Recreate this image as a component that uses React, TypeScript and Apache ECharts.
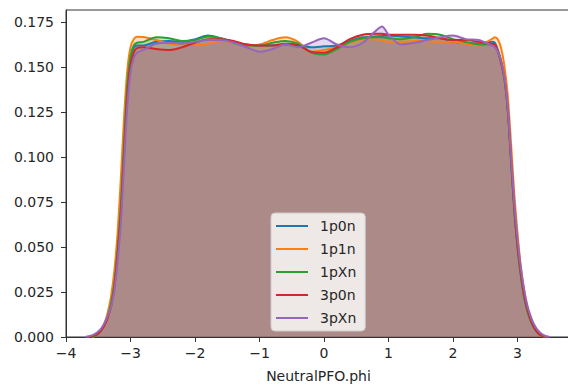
import React, { useEffect, useRef } from "react";
import * as echarts from "echarts";

const phi = [
  -3.7, -3.65, -3.6, -3.55, -3.5, -3.45, -3.4, -3.35, -3.3, -3.25, -3.2, -3.15, -3.1, -3.05, -3.0, -2.95, -2.9,
  -2.8, -2.6, -2.4, -2.2, -2.0, -1.8, -1.6, -1.4, -1.2, -1.0, -0.8, -0.6, -0.4, -0.2, 0, 0.2, 0.4, 0.6, 0.8, 0.9,
  1.0, 1.2, 1.4, 1.6, 1.8, 2.0, 2.2, 2.4, 2.6,
  2.65, 2.7, 2.75, 2.8, 2.85, 2.9, 2.95, 3.0, 3.05, 3.1, 3.15, 3.2, 3.25, 3.3, 3.35, 3.4, 3.45, 3.5,
];

const seriesNames = ["1p0n", "1p1n", "1pXn", "3p0n", "3pXn"];
const seriesColors = ["#1f77b4", "#ff7f0e", "#2ca02c", "#d62728", "#9467bd"];

const d1p0n = [
  null, null, 0, 0.0007, 0.0018, 0.004, 0.007, 0.012, 0.019, 0.03, 0.049, 0.073, 0.108, 0.14, 0.155, 0.1605, 0.162,
  0.162, 0.164, 0.1645, 0.164, 0.1655, 0.1675, 0.166, 0.164, 0.1625, 0.162, 0.162, 0.163, 0.1625, 0.161, 0.1615, 0.162, 0.1645, 0.1665, 0.167, 0.1672,
  0.1675, 0.167, 0.1665, 0.166, 0.166, 0.164, 0.1635, 0.163, 0.164,
  0.1635, 0.159, 0.153, 0.144, 0.127, 0.099, 0.072, 0.051, 0.035, 0.023, 0.015, 0.0095, 0.0055, 0.0028, 0.0012, 0.0004, 0, null,
];
const d1p1n = [
  null, null, 0, 0.0008, 0.002, 0.0045, 0.008, 0.014, 0.023, 0.037, 0.058, 0.088, 0.122, 0.148, 0.161, 0.1655, 0.1668,
  0.1667, 0.165, 0.163, 0.1625, 0.1625, 0.163, 0.1645, 0.1635, 0.162, 0.1625, 0.165, 0.1665, 0.164, 0.1585, 0.1595, 0.161, 0.1635, 0.1655, 0.1655, 0.165,
  0.164, 0.164, 0.1645, 0.1645, 0.164, 0.164, 0.163, 0.162, 0.1655,
  0.1665, 0.165, 0.16, 0.15, 0.134, 0.108, 0.08, 0.058, 0.04, 0.027, 0.017, 0.011, 0.006, 0.003, 0.0012, 0.0004, 0, null,
];
const d1pXn = [
  null, null, 0, 0.0007, 0.0018, 0.004, 0.007, 0.012, 0.019, 0.03, 0.049, 0.073, 0.108, 0.14, 0.156, 0.162, 0.1635,
  0.164, 0.1665, 0.166, 0.1645, 0.165, 0.167, 0.166, 0.1635, 0.162, 0.162, 0.1635, 0.1645, 0.163, 0.158, 0.157, 0.16, 0.164, 0.166, 0.1665, 0.1665,
  0.166, 0.1655, 0.1665, 0.1685, 0.168, 0.1655, 0.164, 0.1625, 0.1625,
  0.162, 0.158, 0.152, 0.143, 0.126, 0.098, 0.071, 0.05, 0.035, 0.023, 0.015, 0.0095, 0.0055, 0.0028, 0.0012, 0.0004, 0, null,
];
const d3p0n = [
  null, 0, 0.0004, 0.001, 0.002, 0.004, 0.0068, 0.011, 0.017, 0.028, 0.046, 0.068, 0.102, 0.134, 0.151, 0.158, 0.1605,
  0.161, 0.16, 0.1595, 0.161, 0.1635, 0.1655, 0.1655, 0.1645, 0.1625, 0.162, 0.162, 0.1625, 0.162, 0.1585, 0.158, 0.161, 0.1655, 0.168, 0.1685, 0.1685,
  0.168, 0.168, 0.168, 0.1675, 0.166, 0.165, 0.165, 0.164, 0.163,
  0.1625, 0.1585, 0.152, 0.143, 0.126, 0.099, 0.072, 0.051, 0.036, 0.024, 0.016, 0.01, 0.006, 0.003, 0.0013, 0.0005, 0, null,
];
const d3pXn = [
  0, 0.0004, 0.0009, 0.0017, 0.003, 0.005, 0.008, 0.012, 0.017, 0.026, 0.042, 0.063, 0.096, 0.128, 0.147, 0.155, 0.158,
  0.1595, 0.163, 0.1635, 0.163, 0.164, 0.165, 0.165, 0.1635, 0.161, 0.1585, 0.16, 0.1625, 0.161, 0.1635, 0.166, 0.1625, 0.161, 0.1635, 0.17, 0.1725,
  0.168, 0.1625, 0.1635, 0.165, 0.1665, 0.1675, 0.1655, 0.165, 0.162,
  0.161, 0.158, 0.153, 0.144, 0.128, 0.101, 0.075, 0.055, 0.039, 0.027, 0.018, 0.012, 0.0075, 0.0045, 0.0025, 0.0012, 0.0004, 0,
];

const seriesValues = [d1p0n, d1p1n, d1pXn, d3p0n, d3pXn];

const xTicks = { min: -4, max: 3.83, interval: 1 };
const yTicks = { min: 0, max: 0.1817, interval: 0.025 };

const FONT = "DejaVu Sans";
const TEXT = "#262626";

export default function App() {
  const ref = useRef<HTMLDivElement>(null);
  useEffect(() => {
    if (!ref.current) return;
    const chart = echarts.init(ref.current, undefined, { renderer: "svg" });
    chart.setOption({
      animation: false,
      backgroundColor: "#ffffff",
      textStyle: { fontFamily: FONT },
      grid: {
        left: 66,
        top: 10,
        right: -3,
        bottom: 50,
        show: true,
        borderColor: "#333333",
        borderWidth: 1,
        backgroundColor: "transparent",
        outerBoundsMode: "none",
        containLabel: false,
      },
      xAxis: {
        type: "value",
        min: xTicks.min,
        max: xTicks.max,
        interval: xTicks.interval,
        name: "NeutralPFO.phi",
        nameLocation: "middle",
        nameGap: 32,
        nameTextStyle: { fontSize: 14, color: TEXT, fontFamily: FONT },
        axisLine: { show: true, onZero: false, lineStyle: { color: "#333333", width: 1 } },
        axisTick: { show: true, length: 5, lineStyle: { color: "#333333" } },
        splitLine: { show: false },
        axisLabel: {
          fontSize: 14,
          color: TEXT,
          fontFamily: FONT,
          margin: 9,
          showMaxLabel: false,
          formatter: (v: number) => String(v).replace("-", "\u2212"),
        },
      },
      yAxis: {
        type: "value",
        min: yTicks.min,
        max: yTicks.max,
        interval: yTicks.interval,
        axisLine: { show: true, onZero: false, lineStyle: { color: "#333333", width: 1 } },
        axisTick: { show: true, length: 5, lineStyle: { color: "#333333" } },
        splitLine: { show: false },
        axisLabel: {
          fontSize: 14,
          color: TEXT,
          fontFamily: FONT,
          margin: 12,
          showMaxLabel: false,
          formatter: (v: number) => v.toFixed(3),
        },
      },
      legend: {
        orient: "vertical",
        left: 271,
        top: 213,
        padding: [5, 9, 5, 5],
        itemGap: 7,
        itemWidth: 32,
        itemHeight: 2,
        icon: "rect",
        backgroundColor: "rgba(255,255,255,0.8)",
        borderColor: "#cccccc",
        borderWidth: 1,
        borderRadius: 4,
        textStyle: {
          fontSize: 14,
          lineHeight: 16,
          color: TEXT,
          fontFamily: FONT,
          padding: [0, 0, 0, 7],
        },
        data: seriesNames,
      },
      series: seriesNames.map((name, i) => ({
        name,
        type: "line",
        data: phi.map((x, j) => [x, seriesValues[i][j] === null ? "-" : seriesValues[i][j]]),
        smooth: 0.3,
        showSymbol: false,
        symbol: "none",
        connectNulls: false,
        color: seriesColors[i],
        itemStyle: { color: seriesColors[i] },
        lineStyle: { color: seriesColors[i], width: 2 },
        areaStyle: { color: seriesColors[i], opacity: 0.25 },
      })),
    });
    return () => chart.dispose();
  }, []);
  return (
    <div
      ref={ref}
      style={{ position: "fixed", left: 0, top: 0, width: 568, height: 387 }}
    />
  );
}
